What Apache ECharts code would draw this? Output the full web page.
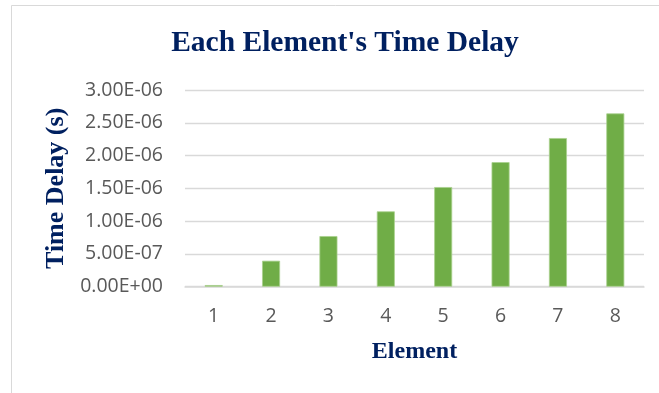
<!DOCTYPE html>
<html>
<head>
<meta charset="utf-8">
<title>Each Element's Time Delay</title>
<script src="https://cdn.jsdelivr.net/npm/echarts@6/dist/echarts.min.js"></script>
<style>
  html, body { margin: 0; padding: 0; background: #ffffff; }
  #chart { width: 659px; height: 393px; }
</style>
</head>
<body>
<div id="chart"></div>
<script>
// Element index on the x axis
const elements = ['1', '2', '3', '4', '5', '6', '7', '8'];
// Measured time delay of each element, in seconds
const timeDelays = [2.5e-8, 3.96e-7, 7.72e-7, 1.149e-6, 1.52e-6, 1.90e-6, 2.267e-6, 2.643e-6];
// Value axis range
const yMin = 0;
const yMax = 3e-6;
const yStep = 5e-7;

// Scientific notation with two decimals and a two-digit signed exponent, e.g. 2.50E-06
function sci(v) {
  if (Math.abs(v) < 1e-15) return '0.00E+00';
  const parts = v.toExponential(2).split('e');
  const exp = parseInt(parts[1], 10);
  const sign = exp < 0 ? '-' : '+';
  const mag = String(Math.abs(exp)).padStart(2, '0');
  return parts[0] + 'E' + sign + mag;
}

const navy = '#002060';
const labelFont = '"Open Sans", "Liberation Sans", sans-serif';
const serif = '"Liberation Serif", "Times New Roman", serif';

const chart = echarts.init(document.getElementById('chart'), null, { renderer: 'canvas' });
chart.setOption({
  animation: false,
  backgroundColor: '#ffffff',
  title: {
    text: "Each Element's Time Delay",
    left: 340,
    top: 23,
    textAlign: 'center',
    textStyle: { fontFamily: serif, fontWeight: 'bold', fontSize: 29.5, color: navy }
  },
  graphic: [{
    type: 'rect',
    shape: { x: 11.5, y: 5.5, width: 700, height: 500 },
    style: { fill: 'none', stroke: '#d9d9d9', lineWidth: 1 },
    silent: true
  }],
  grid: { left: 185, right: 15, top: 90, bottom: 106.3 },
  xAxis: {
    type: 'category',
    data: elements,
    name: 'Element',
    nameLocation: 'middle',
    nameGap: 53,
    nameTextStyle: { fontFamily: serif, fontWeight: 'bold', fontSize: 24, color: navy },
    axisLine: { lineStyle: { color: '#d9d9d9', width: 1.5 } },
    axisTick: { show: false },
    axisLabel: { fontFamily: labelFont, fontSize: 19.5, color: '#595959', margin: 20 }
  },
  yAxis: {
    type: 'value',
    min: yMin,
    max: yMax,
    interval: yStep,
    name: 'Time Delay (s)',
    nameLocation: 'middle',
    nameGap: 101,
    nameRotate: 90,
    nameTextStyle: { fontFamily: serif, fontWeight: 'bold', fontSize: 26, color: navy },
    axisLine: { show: false },
    axisTick: { show: false },
    splitLine: { lineStyle: { color: '#d9d9d9', width: 1.3 } },
    axisLabel: { fontFamily: labelFont, fontSize: 19.5, color: '#595959', margin: 22, formatter: sci }
  },
  series: [{
    type: 'bar',
    data: timeDelays,
    barWidth: 18,
    itemStyle: { color: '#70ad47', borderColor: '#a9d18e', borderWidth: 0.8 }
  }]
});
</script>
</body>
</html>
